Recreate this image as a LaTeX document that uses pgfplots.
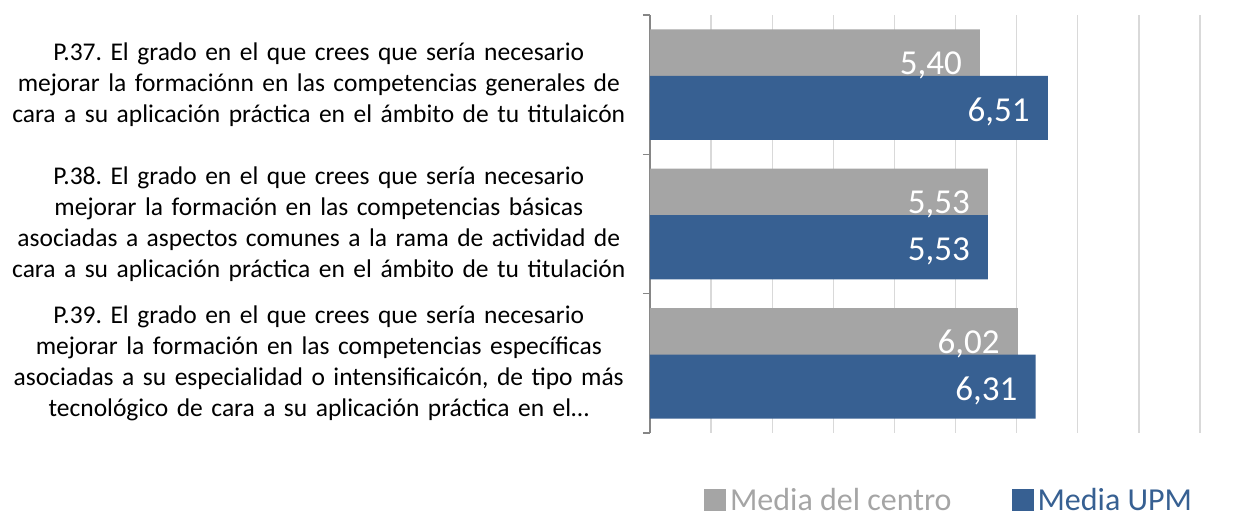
\documentclass[border=0pt]{standalone}
\usepackage{fontspec}
\setmainfont{Carlito}
\usepackage{pgfplots}
\pgfplotsset{compat=1.18}
\definecolor{cgray}{HTML}{A5A5A5}
\definecolor{cblue}{HTML}{376092}
\definecolor{cgrid}{HTML}{D9D9D9}
\definecolor{caxis}{HTML}{868686}
\frenchspacing
\begin{document}
\begin{tikzpicture}
\path[use as bounding box] (-650pt,15pt) rectangle (608pt,-498pt);
\begin{axis}[
  at={(0pt,0pt)}, anchor=north west,
  scale only axis, width=550pt, height=418pt,
  xmin=0, xmax=9, ymin=-0.5, ymax=2.5, y dir=reverse,
  xbar, bar width=0.46,
  xtick={0,...,9}, xticklabels={}, xmajorgrids,
  grid style={cgrid, line width=1.3pt},
  ytick={0,1,2},
  yticklabels={{P.37. El grado en el que crees que sería necesario\\ mejorar la formaciónn en las competencias generales de\\ cara a su aplicación práctica en el ámbito de tu titulaicón},
    {P.38. El grado en el que crees que sería necesario\\ mejorar la formación en las competencias básicas\\ asociadas a aspectos comunes a la rama de actividad de\\ cara a su aplicación práctica en el ámbito de tu titulación},
    {P.39. El grado en el que crees que sería necesario\\ mejorar la formación en las competencias específicas\\ asociadas a su especialidad o intensificaicón, de tipo más\\ tecnológico de cara a su aplicación práctica en el…}},
  yticklabel style={font=\fontsize{25.5}{30.8}\selectfont, text width=640pt, align=center, inner sep=0pt, xshift=-11pt},
  major tick length=0pt,
  extra y ticks={-0.5,0.5,1.5,2.5}, extra y tick labels={},
  extra y tick style={major tick length=7pt, tick align=outside, tick style={caxis, line width=1.3pt}},
  axis lines*=left,
  x axis line style={draw=none},
  y axis line style={caxis, line width=1.3pt},
  point meta=explicit symbolic,
  nodes near coords,
  nodes near coords style={white, font=\fontsize{35}{40}\selectfont, anchor=east, inner sep=0pt, xshift=-18pt, yshift=-4pt},
  legend style={at={(axis description cs:0.098,-0.126)}, anchor=north west, draw=none, fill=none,
    legend columns=2, font=\fontsize{32}{38}\selectfont, inner sep=0pt,
    /tikz/every even column/.append style={column sep=58pt}},
  legend image code/.code={\fill[#1] (0pt,-11pt) rectangle (22pt,11pt);},
]
\addplot[fill=cgray, draw=none, bar shift=-0.167] coordinates {(5.40,0) [5,40] (5.53,1) [5,53] (6.02,2) [6,02]};
\addlegendentry{\hspace{2pt}\textcolor{cgray}{Media del centro}}
\addplot[fill=cblue, draw=none, bar shift=0.167] coordinates {(6.51,0) [6,51] (5.53,1) [5,53] (6.31,2) [6,31]};
\addlegendentry{\hspace{2pt}\textcolor{cblue}{Media UPM}}
\end{axis}
\end{tikzpicture}
\end{document}
